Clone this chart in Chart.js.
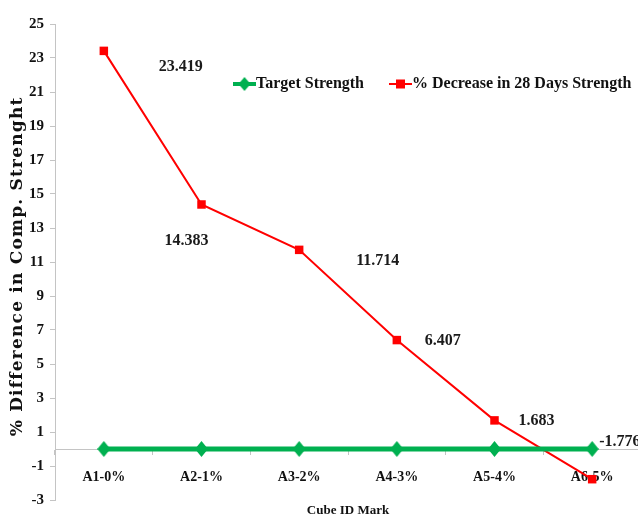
<!DOCTYPE html>
<html>
<head>
<meta charset="utf-8">
<script src="https://cdn.jsdelivr.net/npm/chart.js@4/dist/chart.umd.min.js"></script>
<style>
  html, body { margin: 0; padding: 0; overflow: hidden; background: #fff; }
  #wrap { width: 650px; height: 518px; position: relative; }
</style>
</head>
<body>
<div id="wrap"><canvas id="c"></canvas></div>
<script>
// Cube mixes and their results
const cubeIds = ['A1-0%', 'A2-1%', 'A3-2%', 'A4-3%', 'A5-4%', 'A6-5%'];
const targetStrength = [0, 0, 0, 0, 0, 0];
const decrease28Days = [23.419, 14.383, 11.714, 6.407, 1.683, -1.776];
const yTickMin = -3;
const yTickMax = 25;
const yTickStep = 2;
const yTitleText = '% Difference in Comp. Strenght';
const xTitleText = 'Cube ID Mark';

// Where each value label sits relative to its point (left edge, vertical centre)
const labelOffsets = [[55, 16], [-37, 36], [57, 11], [28, 1], [24, 0], [7, -37]];

const GREEN = '#00b050';
const RED = '#ff0000';
const AXIS_GREY = '#c4c4c4';
const SERIF = '"Liberation Serif", "Times New Roman", serif';
const WIDE_SERIF = '"DejaVu Serif", "Liberation Serif", serif';

// Slim diamond marker for the target series
function makeDiamond(w, h, color) {
  const c = document.createElement('canvas');
  c.width = w; c.height = h;
  const g = c.getContext('2d');
  g.fillStyle = color;
  g.beginPath();
  g.moveTo(w / 2, 0);
  g.lineTo(w, h / 2);
  g.lineTo(w / 2, h);
  g.lineTo(0, h / 2);
  g.closePath();
  g.fill();
  return c;
}
const diamond = makeDiamond(13, 16, GREEN);
const legendDiamond = makeDiamond(12, 14, GREEN);

// Value labels next to the red series
const valueLabels = {
  id: 'valueLabels',
  afterDatasetsDraw(chart) {
    const ctx = chart.ctx;
    const meta = chart.getDatasetMeta(1);
    ctx.save();
    ctx.font = 'bold 16px ' + SERIF;
    ctx.fillStyle = '#1a1a1a';
    ctx.textAlign = 'left';
    ctx.textBaseline = 'middle';
    meta.data.forEach((pt, i) => {
      const [dx, dy] = labelOffsets[i];
      ctx.fillText(String(decrease28Days[i]), pt.x + dx, pt.y + dy);
    });
    ctx.restore();
  }
};

// Vertical axis title in a wide serif face
const yTitle = {
  id: 'yTitle',
  afterDraw(chart) {
    const ctx = chart.ctx;
    const area = chart.chartArea;
    ctx.save();
    ctx.font = 'bold 17px ' + WIDE_SERIF;
    ctx.fillStyle = '#111';
    ctx.textAlign = 'center';
    ctx.textBaseline = 'middle';
    const span = 338;
    const plain = ctx.measureText(yTitleText).width;
    const gap = Math.max(0, (span - plain) / (yTitleText.length - 1));
    ctx.letterSpacing = gap.toFixed(2) + 'px';
    ctx.translate(18, (area.top + area.bottom) / 2 + 5);
    ctx.rotate(-Math.PI / 2);
    ctx.fillText(yTitleText, gap / 2, 0);
    ctx.restore();
  }
};

// Legend drawn inside the plot: line-with-marker swatches
const innerLegend = {
  id: 'innerLegend',
  afterDraw(chart) {
    const ctx = chart.ctx;
    const y = 84;
    ctx.save();
    ctx.font = 'bold 16px ' + SERIF;
    ctx.textBaseline = 'middle';
    ctx.textAlign = 'left';
    const items = [
      { x: 233, color: GREEN, lw: 4, marker: 'diamond', text: chart.data.datasets[0].label },
      { x: 389, color: RED, lw: 2, marker: 'square', text: chart.data.datasets[1].label }
    ];
    items.forEach(it => {
      ctx.strokeStyle = it.color;
      ctx.lineWidth = it.lw;
      ctx.beginPath();
      ctx.moveTo(it.x, y);
      ctx.lineTo(it.x + 23, y);
      ctx.stroke();
      ctx.fillStyle = it.color;
      const cx = it.x + 11.5;
      if (it.marker === 'diamond') {
        ctx.drawImage(legendDiamond, cx - 6, y - 7);
      } else {
        ctx.fillRect(cx - 4.5, y - 4.5, 9, 9);
      }
      ctx.fillStyle = '#111';
      ctx.fillText(it.text, it.x + 23, y);
    });
    ctx.restore();
  }
};

new Chart(document.getElementById('c'), {
  type: 'line',
  data: {
    labels: cubeIds,
    datasets: [
      {
        label: 'Target Strength',
        data: targetStrength,
        borderColor: GREEN,
        backgroundColor: GREEN,
        borderWidth: 5,
        pointStyle: diamond,
        pointRadius: 8,
        pointHoverRadius: 8,
        pointBorderWidth: 0,
        tension: 0
      },
      {
        label: '% Decrease in 28 Days Strength',
        data: decrease28Days,
        borderColor: RED,
        backgroundColor: RED,
        borderWidth: 2,
        pointStyle: 'rect',
        pointRadius: 6,
        pointHoverRadius: 6,
        pointBorderWidth: 0,
        tension: 0
      }
    ]
  },
  options: {
    responsive: true,
    maintainAspectRatio: false,
    animation: false,
    events: [],
    layout: { padding: { top: 24, right: 9, left: 0, bottom: 0 } },
    plugins: {
      legend: { display: false },
      tooltip: { enabled: false }
    },
    scales: {
      x: {
        type: 'category',
        position: { y: 0 },
        offset: true,
        grid: { display: true, drawOnChartArea: false, drawTicks: true, tickLength: 5, color: AXIS_GREY, offset: true },
        border: { display: true, color: AXIS_GREY, width: 1 },
        ticks: {
          padding: 15,
          color: '#111',
          maxRotation: 0,
          font: { family: SERIF, size: 14, weight: 'bold' }
        }
      },
      xTitle: {
        type: 'category',
        position: 'bottom',
        labels: cubeIds,
        offset: true,
        grid: { display: false },
        border: { display: false },
        ticks: { display: false },
        afterFit(scale) { scale.height = 18; },
        title: {
          display: true,
          text: xTitleText,
          color: '#111',
          padding: { top: 6, bottom: 0 },
          font: { family: SERIF, size: 13, weight: 'bold' }
        }
      },
      y: {
        type: 'linear',
        min: yTickMin,
        max: yTickMax,
        ticks: {
          stepSize: yTickStep,
          padding: 6,
          color: '#111',
          font: { family: SERIF, size: 15, weight: 'bold' }
        },
        grid: { display: true, drawOnChartArea: false, drawTicks: true, tickLength: 5, color: AXIS_GREY },
        border: { display: true, color: AXIS_GREY, width: 1 },
        afterFit(scale) { scale.width = 55; }
      }
    }
  },
  plugins: [valueLabels, innerLegend, yTitle]
});
</script>
</body>
</html>
